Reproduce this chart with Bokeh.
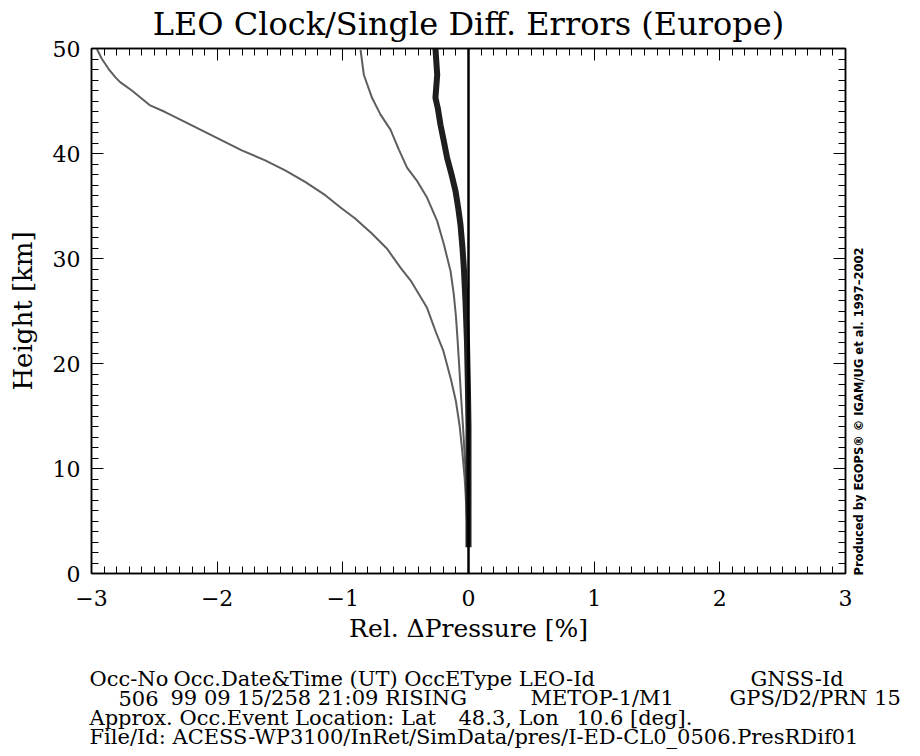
import math
from bokeh.plotting import figure
from bokeh.models import LinearAxis, FixedTicker, Range1d, Title, ColumnDataSource
from bokeh.core.properties import value
from bokeh.embed import file_html
from bokeh.resources import INLINE

# ---- data ----
x_ticks = [-3, -2, -1, 0, 1, 2, 3]
y_ticks = [0, 10, 20, 30, 40, 50]

h_left = [49.97, 49.02, 48.07, 47.27, 46.80, 46.0, 44.58, 43.95, 43.16, 42.21, 41.26, 40.30,
          39.35, 38.40, 37.29, 36.03, 34.76, 33.81, 32.38, 30.96, 29.1, 27.9, 25.3, 23.0,
          21.2, 18.5, 16.4, 14.0, 11.7, 9.0, 6.9, 4.5, 2.7]
x_left = [-2.958, -2.918, -2.865, -2.811, -2.772, -2.679, -2.533, -2.414, -2.281, -2.122, -1.963, -1.804,
          -1.618, -1.459, -1.300, -1.140, -1.008, -0.902, -0.769, -0.650, -0.54, -0.46, -0.33, -0.26,
          -0.20, -0.14, -0.10, -0.07, -0.05, -0.03, -0.02, -0.01, -0.005]

h_mid = [49.87, 47.5, 45.28, 43.70, 42.27, 40.4, 38.63, 37.36, 35.78, 33.56, 31.35, 28.81, 26.59,
         24.5, 22.8, 20, 17, 13.3, 10, 7, 3.6, 2.5]
x_mid = [-0.859, -0.833, -0.767, -0.700, -0.621, -0.555, -0.488, -0.408, -0.329, -0.249, -0.196, -0.143, -0.117,
         -0.10, -0.09, -0.075, -0.06, -0.04, -0.025, -0.015, -0.01, -0.008]

h_thick = [50, 47.5, 45.3, 44.3, 42.74, 41.16, 39.57, 37.99, 36.41, 34.82, 33.24, 31.02,
           29.12, 25.95, 22, 18, 14, 10, 6, 2.5]
x_thick = [-0.263, -0.249, -0.263, -0.244, -0.223, -0.196, -0.170, -0.135, -0.103, -0.082, -0.064, -0.048,
           -0.037, -0.024, -0.012, -0.005, 0.0, 0.0, 0.0, 0.0]

zero_x = [0, 0]
zero_h = [0, 50]

title_text = "LEO Clock/Single Diff. Errors (Europe)"
x_label = "Rel. \u0394Pressure [%]"
y_label = "Height [km]"
credit = "Produced by EGOPS\u00ae \u00a9 IGAM/UG et al. 1997\u20132002"

info_line1 = [("Occ-No", 89), ("Occ.Date&Time (UT) OccEType LEO-Id", 173), ("GNSS-Id", 750)]
info_line2 = [("506", 118), ("99 09 15/258 21:09 RISING", 170), ("METOP-1/M1", 530),
              ("GPS/D2/PRN 15", 729)]
info_line3 = [("Approx. Occ.Event Location: Lat", 89), ("48.3, Lon", 458), ("10.6 [deg].", 576)]
info_line4 = [("File/Id: ACESS-WP3100/InRet/SimData/pres/I-ED-CL0_0506.PresRDif01", 89)]

SERIF = "DejaVu Serif"
W, H = 920, 756
FL, FR, FT, FB = 91, 845, 47, 573
XMIN, XMAX, YMIN, YMAX = -3, 3, 0, 50

p = figure(width=W, height=H, output_backend="svg", toolbar_location=None,
           x_range=Range1d(XMIN, XMAX), y_range=Range1d(YMIN, YMAX),
           min_border_left=FL, min_border_right=W - FR,
           min_border_top=FT, min_border_bottom=H - FB,
           x_axis_label=x_label, y_axis_label=y_label)
p.background_fill_color = "white"
p.border_fill_color = "white"
p.outline_line_color = "black"
p.outline_line_width = 1.5
p.grid.visible = False

xt = FixedTicker(ticks=x_ticks, minor_ticks=[round(-3 + 0.1 * i, 2) for i in range(61)])
yt = FixedTicker(ticks=y_ticks, minor_ticks=list(range(0, 51)))

def style_axis(ax, ticker, show_labels):
    ax.ticker = ticker
    ax.axis_line_color = "black"
    ax.axis_line_width = 1.5
    ax.major_tick_in = 12
    ax.major_tick_out = 0
    ax.minor_tick_in = 7
    ax.minor_tick_out = 0
    ax.major_tick_line_color = "black"
    ax.minor_tick_line_color = "black"
    ax.major_tick_line_width = 1
    ax.minor_tick_line_width = 1
    ax.major_label_text_font = SERIF
    ax.major_label_text_color = "black"
    ax.axis_label_text_font = SERIF
    ax.axis_label_text_font_style = "normal"
    ax.axis_label_text_color = "black"
    if not show_labels:
        ax.major_label_overrides = {t: " " for t in ticker.ticks}
        ax.major_label_text_font_size = "1px"
        ax.major_label_standoff = 0

bx = p.xaxis[0]
style_axis(bx, xt, True)
bx.major_label_text_font_size = "22px"
bx.major_label_standoff = 16
bx.axis_label_text_font_size = "25px"
bx.axis_label_standoff = 5

ly = p.yaxis[0]
style_axis(ly, yt, True)
ly.major_label_text_font_size = "22px"
ly.major_label_standoff = 11
ly.axis_label_text_font_size = "26px"
ly.axis_label_standoff = 12

top = LinearAxis()
style_axis(top, xt, False)
p.add_layout(top, "above")
right = LinearAxis()
style_axis(right, yt, False)
p.add_layout(right, "right")

p.title = Title(text=title_text, align="center", text_font=SERIF, text_font_size="32px",
                text_font_style="normal", text_color="black", standoff=4)

gray = "#5e5e5e"
p.line(x_left, h_left, line_color=gray, line_width=2)
p.line(x_mid, h_mid, line_color=gray, line_width=2)
p.line(x_thick, h_thick, line_color="#1e1e1e", line_width=6, line_join="round")
p.line(zero_x, zero_h, line_color="black", line_width=2.5)

def to_data(cx, cy):
    dx = XMIN + (cx - FL) / (FR - FL) * (XMAX - XMIN)
    dy = YMIN + (FB - cy) / (FB - FT) * (YMAX - YMIN)
    return dx, dy

# bottom information block (overlay level so it is drawn outside the frame)
tx, ty, tt = [], [], []
for line, cy in ((info_line1, 679), (info_line2, 698), (info_line3, 718), (info_line4, 737)):
    for txt, cx in line:
        dx, dy = to_data(cx, cy)
        tx.append(dx); ty.append(dy); tt.append(txt)
src = ColumnDataSource(dict(x=tx, y=ty, text=tt))
p.text(x="x", y="y", text="text", source=src, text_font=value(SERIF), text_font_size="21px",
       text_align="left", text_baseline="middle", text_color="black", level="overlay")

# vertical credit on the right
cxd, cyd = to_data(858, 575)
csrc = ColumnDataSource(dict(x=[cxd], y=[cyd], text=[credit]))
p.text(x="x", y="y", text="text", source=csrc, text_font=value("DejaVu Sans"),
       text_font_size="11.5px", text_font_style="bold", angle=math.pi / 2,
       text_align="left", text_baseline="middle", text_color="black", level="overlay")

open("out.html", "w").write(file_html(p, INLINE))
